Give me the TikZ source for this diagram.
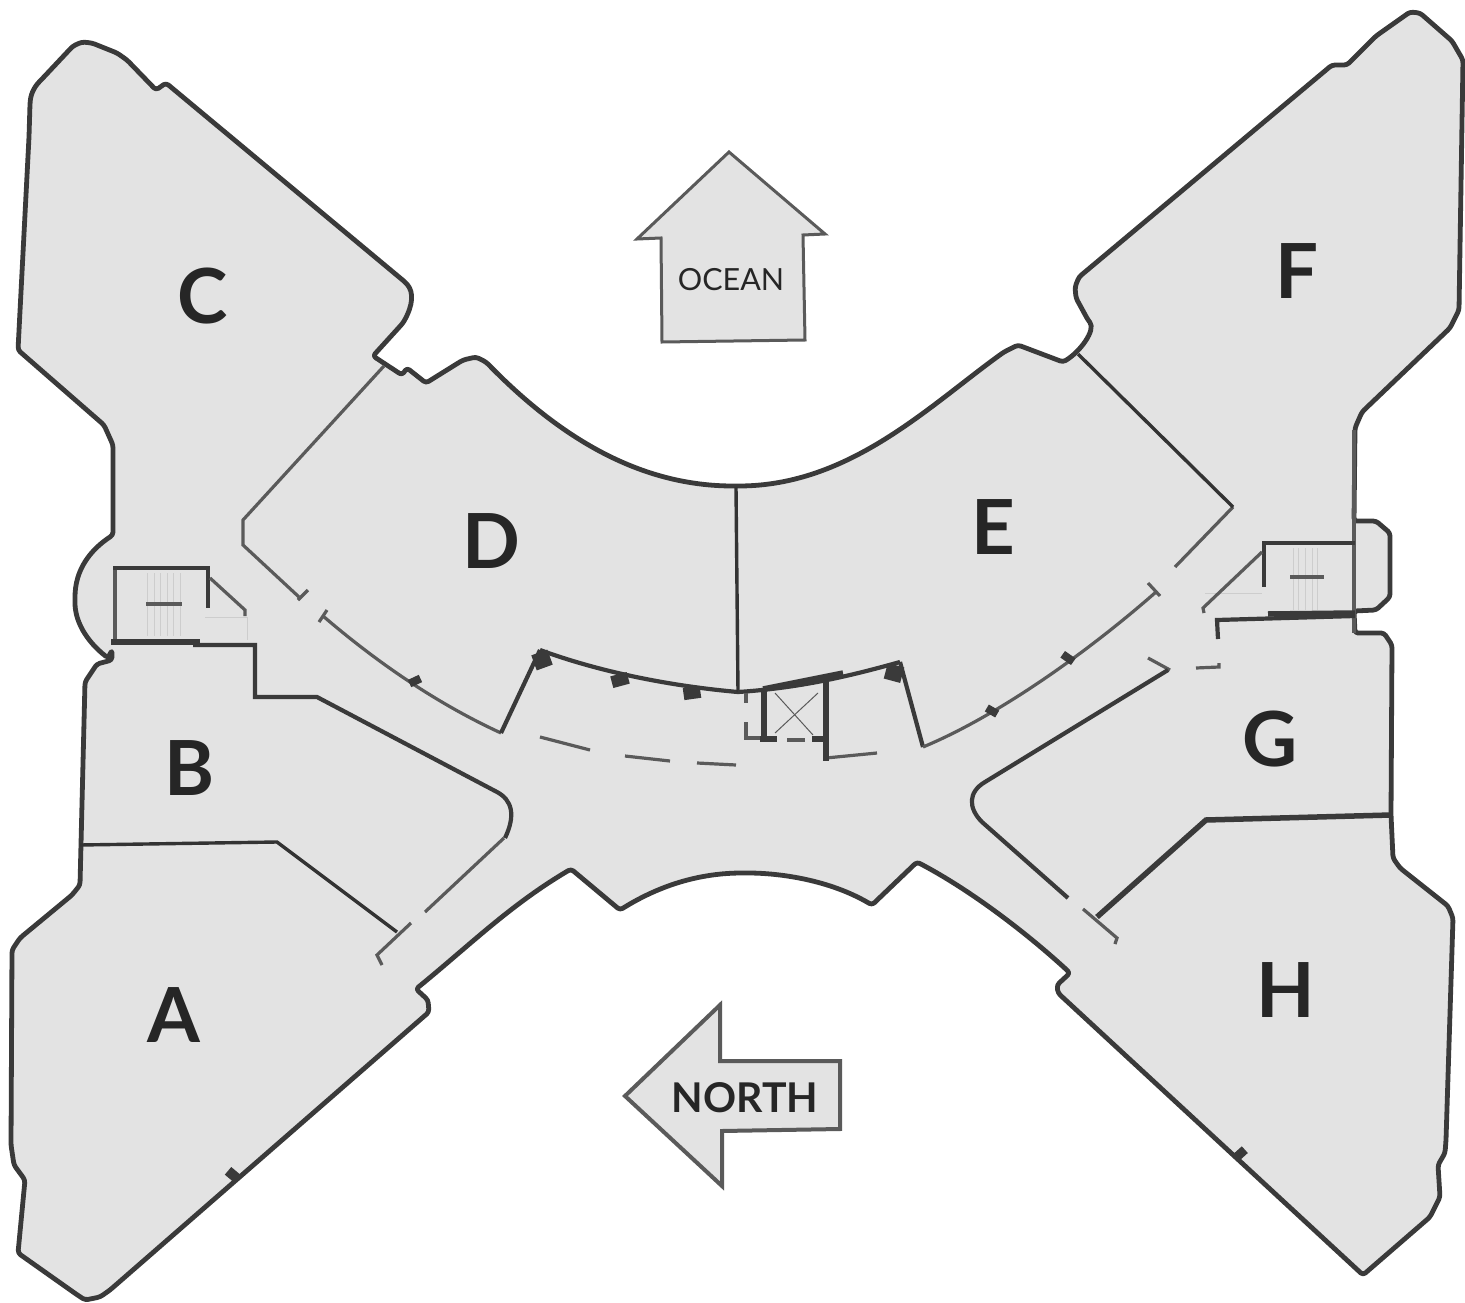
\documentclass[tikz,border=0pt]{standalone}
\usepackage{fontspec}
\setmainfont{Lato}
\definecolor{floorgrey}{HTML}{E3E3E3}
\definecolor{wallink}{HTML}{3A3A3A}
\definecolor{softwall}{HTML}{5A5A5A}
\definecolor{faintline}{HTML}{CDCDCD}
\tikzset{
  outerwall/.style={draw=wallink,line width=4.8pt,line join=round,fill=floorgrey,rounded corners=3pt},
  wall/.style={draw=wallink,line width=4.2pt,line join=miter},
  softw/.style={draw=softwall,line width=3.2pt,line join=miter},
  thinblack/.style={draw=black!80,line width=3.4pt},
  thickw/.style={draw=wallink,line width=5.5pt},
  faint/.style={draw=faintline,line width=1pt},
  thinx/.style={draw=softwall,line width=1pt},
  pier/.style={fill=wallink,draw=none,minimum width=17pt,minimum height=12pt,inner sep=0pt},
  bigpier/.style={fill=wallink,draw=none,minimum width=17pt,minimum height=16pt,inner sep=0pt},
  zonelabel/.style={font=\fontsize{76}{76}\selectfont\bfseries,text=black!85,inner sep=0pt},
  arrowshape/.style={fill=floorgrey,line join=miter},
}
\begin{document}
\begin{tikzpicture}[x=1pt,y=-1pt]
\useasboundingbox (0,0) rectangle (1465,1303);
% floor outline
\path[outerwall]
  (18,350) -- (29,137) -- (30,104) .. controls (31,92) and (36,85) .. (42,79)
  -- (73,46) -- (82,42) -- (92,43) -- (117,53) -- (127,60) -- (156,90) -- (166,83)
  -- (405,282) .. controls (414,292) and (413,305) .. (403,323)
  -- (373,356) -- (402,375) -- (407,368) -- (426,383) -- (463,360) -- (476,357) -- (486,362)
  .. controls (560,438) and (640,486) .. (736,486)
  .. controls (850,486) and (930,405) .. (1004,352)
  -- (1018,345) -- (1063,362)
  .. controls (1080,352) and (1096,330) .. (1088,320)
  -- (1076,298) -- (1075,287) -- (1079,277) -- (1332,65) -- (1347,65) -- (1376,36)
  -- (1410,12) -- (1420,13) -- (1452,41) -- (1463,60) -- (1459,310) -- (1450,328)
  -- (1362,412) -- (1355,428) -- (1354,521) -- (1376,521) -- (1390,533) -- (1390,597) -- (1376,610)
  -- (1354,611) -- (1355,633) -- (1384,633) -- (1392,645) -- (1391,815) -- (1393,858) -- (1400,868)
  -- (1448,906) -- (1453,918) -- (1446,1140) -- (1445,1153) -- (1438,1165) -- (1440,1197) -- (1430,1217)
  -- (1363,1275) -- (1058,993) -- (1057,985) -- (1070,973)
  .. controls (1040,945) and (980,895) .. (917,862)
  -- (872,905) .. controls (830,880) and (780,873) .. (745,873)
  .. controls (700,873) and (660,885) .. (620,910)
  -- (571,869) .. controls (510,905) and (470,945) .. (416,989)
  -- (428,1000) -- (429,1012) -- (110,1290) -- (100,1297) -- (85,1300) -- (76,1294)
  -- (18,1253) -- (25,1180) -- (14,1165) -- (11,1145) -- (12,950) -- (20,938) -- (72,895) -- (80,885)
  -- (85,682) -- (97,664) -- (112,660) -- (112,650)
  -- (108,658) .. controls (85,640) and (75,620) .. (75,600)
  .. controls (75,570) and (90,550) .. (113,535)
  -- (113,445) -- (104,425) -- cycle;
% faint stair treads
\foreach \sx in {147,154,160,167,173,180}{\draw[faint] (\sx,573) -- (\sx,636);}
\foreach \sx in {1293,1298,1305,1312,1317}{\draw[faint] (\sx,548) -- (\sx,610);}
\draw[faint] (205,617) -- (247,617) -- (247,640);
\draw[faint] (1205,593) -- (1262,593);
% C / D partition and inner curve
\draw[softw] (384,366) -- (243,520) -- (243,545) -- (299,597);
\draw[softw] (298,600) -- (308,590);
\draw[softw] (319,622) -- (327,610);
\draw[softw] (323,616) .. controls (380,665) and (440,705) .. (501,733);
% D shopfront
\draw[wall] (501,733) -- (540,650);
\draw[wall] (540,650) .. controls (600,672) and (670,686) .. (738,692);
\draw[thinblack] (738,692) -- (736,487);
\draw[wall] (738,692) .. controls (800,688) and (850,676) .. (900,662);
\draw[thickw] (763,689) -- (843,673);
\draw[wall] (900,662) -- (923,747);
% E front
\draw[softw] (923,747) .. controls (1000,715) and (1090,650) .. (1156,592);
\draw[softw] (1148,583) -- (1160,596);
\draw[softw] (1175,567) -- (1233,507);
\draw[thinblack] (1233,507) -- (1078,354);
% piers
\node[bigpier,rotate=20] (p1) at (542,660) {};
\node[pier,rotate=15] (p2) at (620,680) {};
\node[pier,rotate=8] (p3) at (692,693) {};
\node[bigpier,rotate=-15] (p4) at (894,673) {};
\node[pier,minimum width=12pt,minimum height=8pt,rotate=-30] (p5) at (992,711) {};
\node[pier,minimum width=13pt,minimum height=8pt,rotate=-35] (p6) at (1068,658) {};
\node[pier,minimum width=12pt,minimum height=8pt,rotate=25] (p7) at (415,681) {};
\node[pier,minimum width=13pt,minimum height=10pt,rotate=-40] (p8) at (233,1175) {};
\node[pier,minimum width=13pt,minimum height=9pt,rotate=42] (p9) at (1240,1154) {};
% corridor dashes
\draw[softw] (540,737) -- (590,750);
\draw[softw] (625,756) -- (670,761);
\draw[softw] (697,763) -- (736,765);
\draw[softw] (826,758) -- (877,753);
% lift
\draw[thickw] (764,690) -- (764,740);
\draw[thickw] (826,680) -- (826,761);
\draw[softw] (746,693) -- (746,703);
\draw[softw] (746,722) -- (746,738) -- (762,738);
\draw[thickw] (760,739) -- (777,739);
\draw[softw] (787,740) -- (805,740);
\draw[thickw] (812,739) -- (826,739);
\draw[thinx] (775,693) -- (813,735);
\draw[thinx] (818,693) -- (775,733);
% left stair
\draw[softw] (115,640) -- (115,568);
\draw[wall] (113,568) -- (208,568) -- (208,608);
\draw[thickw] (111,642) -- (200,642);
\draw[wall] (193,645) -- (255,645) -- (255,697) -- (317,697) -- (497,792)
  .. controls (512,800) and (516,815) .. (505,838);
\draw[softw] (504,838) -- (425,912);
\draw[softw] (210,578) -- (245,610) -- (245,616);
\draw[softw] (146,604) -- (182,604);
\draw[thinblack] (80,845) -- (277,842) -- (397,932);
\draw[softw] (411,923) -- (377,955) -- (382,965);
% right stair
\draw[softw] (1354,430) -- (1354,633);
\draw[wall] (1355,543) -- (1264,543) -- (1264,587);
\draw[softw] (1262,552) -- (1203,608) -- (1204,613);
\draw[softw] (1290,577) -- (1324,577);
\draw[thickw] (1268,614) -- (1355,613);
\draw[wall] (1355,616) -- (1217,620) -- (1218,639);
\draw[softw] (1196,668) -- (1219,667) -- (1219,663);
\draw[softw] (1148,658) -- (1170,670);
\draw[wall] (1168,670) -- (985,782) .. controls (968,792) and (968,808) .. (982,822) -- (1068,898);
\draw[softw] (1083,909) -- (1117,938) -- (1115,944);
\draw[thickw] (1097,917) -- (1206,820) -- (1391,815);
% direction arrows
\draw[arrowshape,draw=softwall,line width=3pt]
  (729,152) -- (825,234) -- (803,235) -- (805,340) -- (662,342) -- (661,238) -- (637,239) -- cycle;
\node[font=\fontsize{30.5}{30.5}\selectfont,text=black!85,inner sep=0pt] (ocean) at (731,280) {OCEAN};
\draw[arrowshape,draw=softwall,line width=4pt]
  (625,1096) -- (720,1005) -- (720,1061) -- (840,1061) -- (840,1129) -- (722,1131) -- (722,1186) -- cycle;
\node[font=\fontsize{41}{41}\selectfont\bfseries,text=black!85,inner sep=0pt] (north) at (745,1098) {NORTH};
% zones
\node[zonelabel] (A) at (174,1015) {A};
\node[zonelabel] (B) at (190,768) {B};
\node[zonelabel] (C) at (203,296) {C};
\node[zonelabel] (D) at (491,541) {D};
\node[zonelabel] (E) at (993,527) {E};
\node[zonelabel] (F) at (1297,271) {F};
\node[zonelabel] (G) at (1270,739) {G};
\node[zonelabel] (H) at (1286,990) {H};
\end{tikzpicture}
\end{document}
